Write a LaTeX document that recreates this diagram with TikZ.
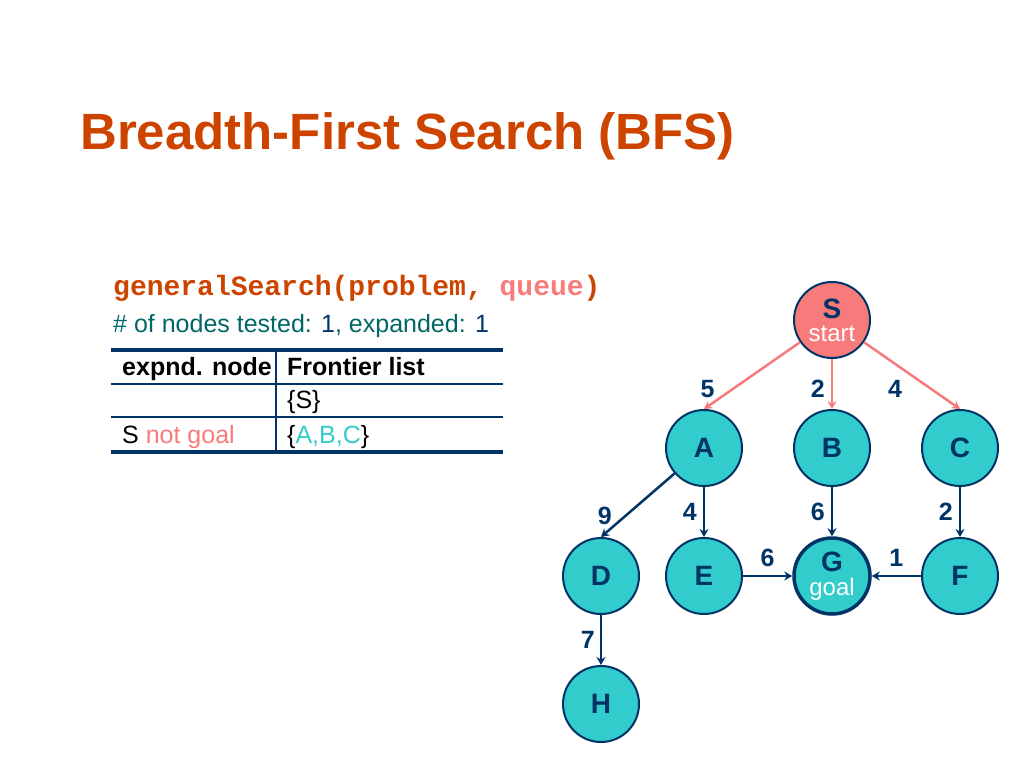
\documentclass[tikz,border=0pt]{standalone}
\usepackage{fontspec}
\setmainfont{Liberation Sans}
\setmonofont{Liberation Mono}
\usetikzlibrary{arrows.meta}
\definecolor{navy}{HTML}{003366}
\definecolor{aqua}{HTML}{33CCCC}
\definecolor{salmon}{HTML}{F77B7B}
\definecolor{rust}{HTML}{CC4400}
\definecolor{teal}{HTML}{006666}
\begin{document}
\begin{tikzpicture}[x=1pt,y=-1pt,
    vertex/.style={circle,draw=navy,line width=2pt,fill=aqua,minimum size=76pt,
      inner sep=0pt,text=navy,align=center,font=\fontsize{28}{24}\selectfont\bfseries},
    wt/.style={inner sep=0pt,text=navy,font=\fontsize{25}{25}\selectfont\bfseries},
    txt/.style={anchor=base west,inner sep=0pt,font=\fontsize{25}{25}\selectfont}]
  \useasboundingbox (0,0) rectangle (1024,768);
  % title and caption
  \node[anchor=base west,inner sep=0pt,text=rust,font=\fontsize{51}{51}\selectfont\bfseries]
    (title) at (80,149) {Breadth-First Search (BFS)};
  \node[anchor=base west,inner sep=0pt,text=rust,font=\fontsize{28}{28}\selectfont\ttfamily\bfseries]
    (call) at (113,295) {generalSearch(problem, \textcolor{salmon}{queue})};
  \node[txt,text=teal] (count) at (113,332)
    {\# of nodes tested: \textcolor{navy}{1}, expanded: \textcolor{navy}{1}};
  % table
  \draw[navy,line width=4pt] (111,350) -- (503,350);
  \draw[navy,line width=4pt] (111,452) -- (503,452);
  \draw[navy,line width=1.2pt] (111,384) -- (503,384);
  \draw[navy,line width=1.2pt] (111,417) -- (503,417);
  \draw[navy,line width=1.2pt] (276,350) -- (276,452);
  \node[txt,font=\fontsize{25}{25}\selectfont\bfseries] (h1) at (122,375) {expnd. node};
  \node[txt,font=\fontsize{25}{25}\selectfont\bfseries] (h2) at (287,375) {Frontier list};
  \node[txt] (r1) at (287,408) {\{S\}};
  \node[txt] (r2a) at (122,443) {S \textcolor{salmon}{not goal}};
  \node[txt] (r2b) at (287,443) {\{\textcolor{aqua}{A,B,C}\}};
  % graph
  \draw
    (832,320) node[vertex,fill=salmon] (S) {S\\[-1pt]\textcolor{white}{\fontsize{24}{24}\selectfont\mdseries start}}
    (704,448) node[vertex] (A) {A}
    (832,448) node[vertex] (B) {B}
    (960,448) node[vertex] (C) {C}
    (601,576) node[vertex] (D) {D}
    (704,576) node[vertex] (E) {E}
    (832,576) node[vertex,line width=3.5pt] (G) {G\\[0pt]\textcolor{white}{\fontsize{24}{24}\selectfont\mdseries goal}}
    (960,576) node[vertex] (F) {F}
    (601,704) node[vertex] (H) {H};
  \begin{scope}[-{Stealth[length=8pt,width=9pt]},line width=2.5pt,salmon]
    \draw (S) -- node[wt,pos=0.7,left=17pt] {5} (A.north);
    \draw (S) -- node[wt,pos=0.6,left=6pt] {2} (B);
    \draw (S) -- node[wt,pos=0.7,left=28pt] {4} (C.north);
  \end{scope}
  \begin{scope}[-{Stealth[length=8pt,width=9pt]},line width=2.5pt,navy]
    \draw (A) -- node[wt,pos=0.66,left=13pt] {9} (D.north);
    \draw (A) -- node[wt,left=6pt] {4} (E);
    \draw (B) -- node[wt,left=6pt] {6} (G);
    \draw (C) -- node[wt,left=6pt] {2} (F);
    \draw (E) -- node[wt,above=8pt] {6} (G);
    \draw (F) -- node[wt,above=8pt] {1} (G);
    \draw (D) -- node[wt,left=5pt] {7} (H);
  \end{scope}
\end{tikzpicture}
\end{document}
